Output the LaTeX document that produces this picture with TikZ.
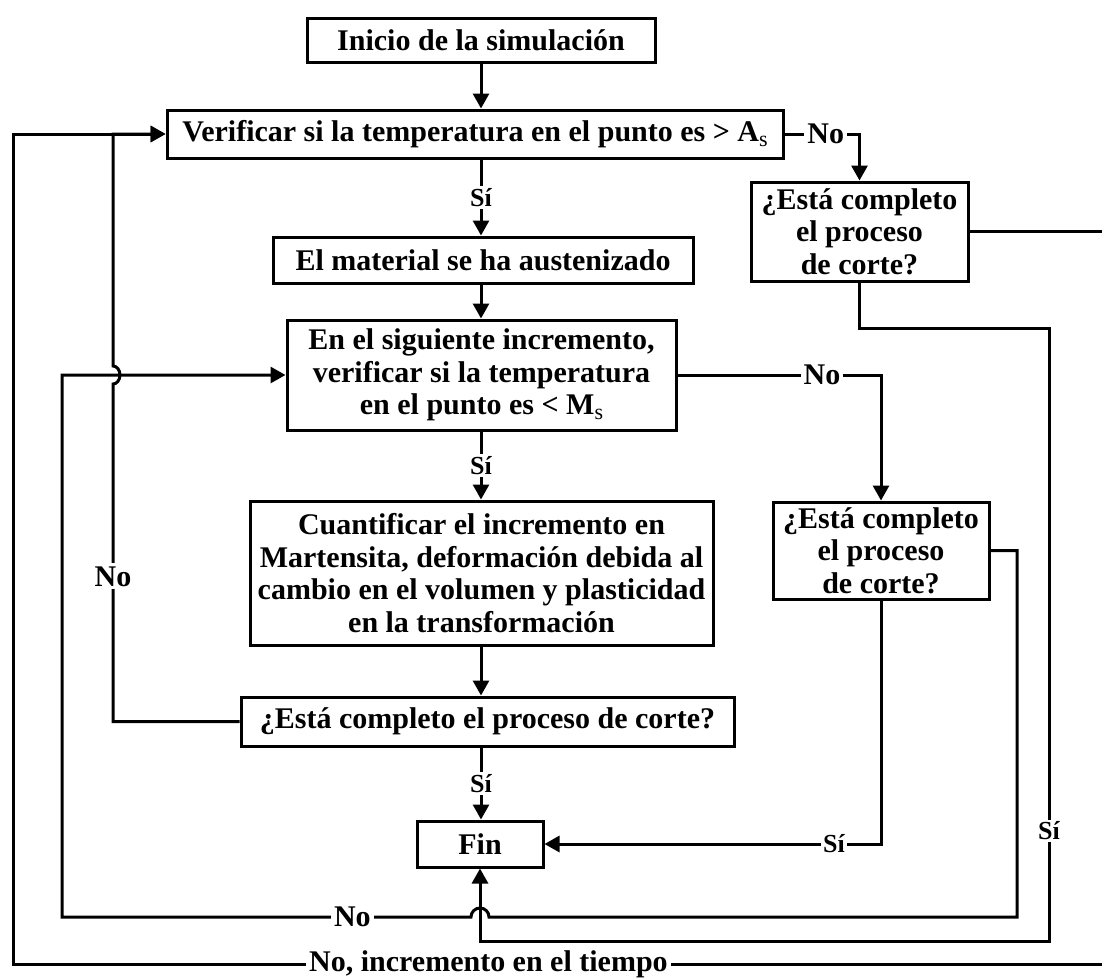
\documentclass[tikz,border=0pt]{standalone}
\usepackage{fontspec}
\setmainfont{Liberation Serif}
\usetikzlibrary{arrows.meta}
% lowered small "s" used for A_s and M_s
\newcommand{\subS}{{\fontsize{22}{22}\selectfont\mdseries\raisebox{-5pt}{s}}}

\begin{document}
\begin{tikzpicture}[x=1pt,y=-1pt,
  box/.style={draw, line width=3pt, rectangle, inner sep=0pt, align=center,
    fill=white, font=\fontsize{30}{32.5}\selectfont\bfseries},
  link/.style={line width=3pt, line join=miter},
  arr/.style={link, -{Triangle[length=15pt,width=16pt]}},
  lab/.style={fill=white, inner sep=3pt, font=\fontsize{30}{30}\selectfont\bfseries},
  slab/.style={fill=white, inner sep=2pt, font=\fontsize{26}{26}\selectfont\bfseries}]

\useasboundingbox (0,0) rectangle (1102,977);

% process boxes
\node[box, minimum width=348pt, minimum height=44pt] (ini) at (481,40) {Inicio de la simulación};
\node[box, minimum width=616pt, minimum height=48pt] (ver) at (475,134) {Verificar si la temperatura en el punto es > A\subS};
\node[box, minimum width=420pt, minimum height=46pt] (mat) at (483,260) {El material se ha austenizado};
\node[box, minimum width=389pt, minimum height=110pt] (sig) at (481.5,375)
  {En el siguiente incremento,\\ verificar si la temperatura\\ en el punto es < M\subS};
\node[box, minimum width=463pt, minimum height=144pt] (cuan) at (481.5,573)
  {Cuantificar el incremento en\\ Martensita, deformación debida al\\ cambio en el volumen y plasticidad\\ en la transformación};
\node[box, minimum width=493pt, minimum height=49pt] (cor) at (487.5,721.5) {¿Está completo el proceso de corte?};
\node[box, minimum width=126pt, minimum height=46pt] (fin) at (480,844) {Fin};
\node[box, minimum width=217pt, minimum height=99pt] (c1) at (859.5,231.5) {¿Está completo\\ el proceso\\ de corte?};
\node[box, minimum width=216pt, minimum height=97pt] (c2) at (881,550.5) {¿Está completo\\ el proceso\\ de corte?};

% main column
\draw[arr] (ini) -- (ini |- ver.north);
\draw[arr] (ver.south -| ini) -- node[slab]{Sí} (mat.north -| ini);
\draw[arr] (mat.south -| ini) -- (sig.north -| ini);
\draw[arr] (sig.south -| ini) -- node[slab]{Sí} (cuan.north -| ini);
\draw[arr] (cuan.south -| ini) -- (cor.north -| ini);
\draw[arr] (cor.south -| ini) -- node[slab]{Sí} (fin.north -| ini);

% side branches
\draw[arr] (ver.east) -- node[lab, pos=0.55]{No} (ver.east -| c1.north) -- (c1.north);
\draw[arr] (sig.east) -- node[lab, pos=0.71]{No} (sig.east -| c2.north) -- (c2.north);
\draw[arr] (c2.south) |- node[slab, pos=0.57]{Sí} (fin.east);
\draw[arr] (c1.south) -- (c1.south |- 0,328) -- (1049,328)
  -- node[slab, pos=0.82]{Sí} (1049,941) -- (fin.south |- 0,941) -- (fin.south);

% loop back to the next increment, hopping over the Fin arrow
\draw[arr] (c2.east) -| (1017,917) -- (489,917)
  arc[start angle=0, end angle=180, radius=9pt]
  -- node[lab, pos=0.29]{No} (62,917) -- (62,375) -- (sig.west);

% loop back from the bottom question, hopping over the line above
\draw[arr] (cor.west) -- (113,721.5) -- node[lab, pos=0.43]{No} (113,384)
  arc[start angle=-90, end angle=90, x radius=7pt, y radius=9pt]
  -- (113,134) -- (ver.west);

% outer loop: next time increment
\draw[arr] (c1.east) -- (1106,231.5) -- (1106,964)
  -- node[lab, pos=0.565]{No, incremento en el tiempo} (13,964) -- (13,134) -- (ver.west);

\end{tikzpicture}
\end{document}
